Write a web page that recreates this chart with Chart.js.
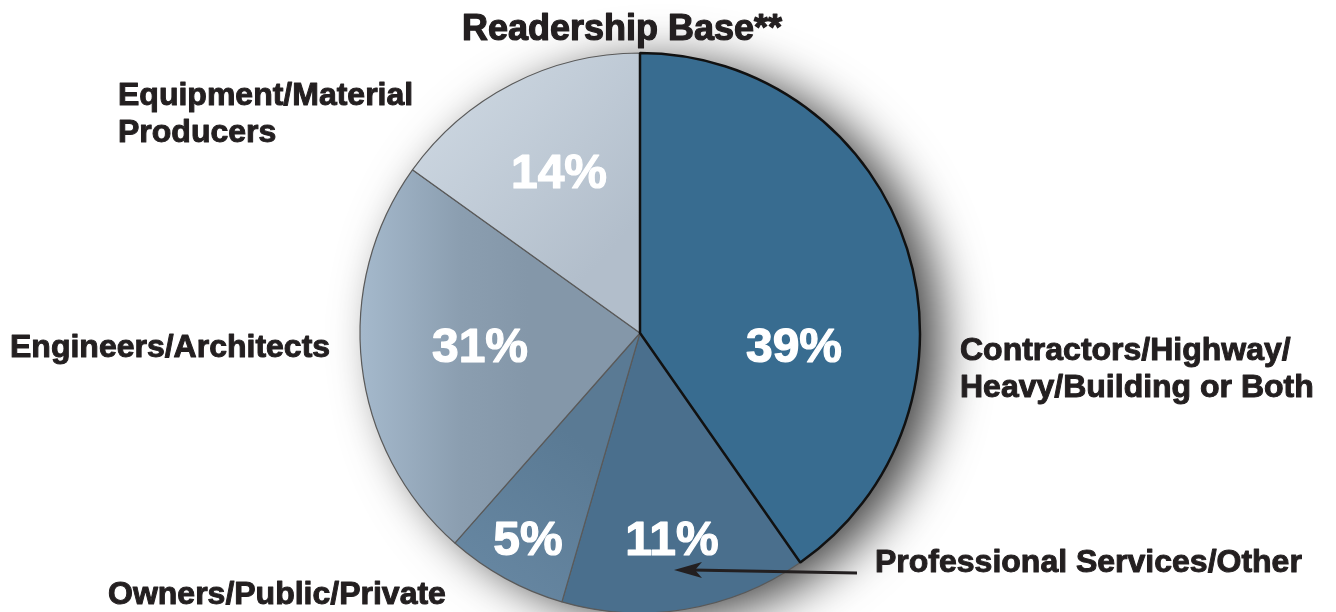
<!DOCTYPE html>
<html>
<head>
<meta charset="utf-8">
<script src="https://cdn.jsdelivr.net/npm/chart.js@4"></script>
<style>
  html, body { margin: 0; padding: 0; background: #fff; overflow: hidden; }
  #wrap { width: 1336px; height: 612px; }
</style>
</head>
<body>
<div id="wrap"><canvas id="pie" width="1336" height="612"></canvas></div>
<script>
// slices clockwise from 12 o'clock
const categories = ['Contractors/Highway/Heavy/Building or Both', 'Professional Services/Other', 'Owners/Public/Private', 'Engineers/Architects', 'Equipment/Material Producers'];
const shareLabels = ['39%', '11%', '5%', '31%', '14%'];
// slice sizes as they are drawn in the picture (the drawing is not to the printed shares)
const sliceSizes = [40.3, 14.2, 7.0, 23.4, 15.1];

const titleText = 'Readership Base**';
const outerLabels = [
    ['Contractors/Highway/', 'Heavy/Building or Both'],
    ['Professional Services/Other'],
    ['Owners/Public/Private'],
    ['Engineers/Architects'],
    ['Equipment/Material', 'Producers']
];

const CX = 640, CY = 333, R = 280;
const FONT = '"Liberation Sans", Arial, Helvetica, sans-serif';
const INK = '#231f20';

// where the texts sit (left x, first baseline) and the percent labels (centre x, baseline)
const outerPos = [[960, 360], [875, 572], [108, 604], [10, 357], [118, 105]];
const sharePos = [[794, 362], [672, 555], [528, 555], [480, 362], [559, 188]];

function sliceFill(ctx, i) {
    const c = ctx.chart.ctx;
    let g;
    if (i === 0) return '#386c90';
    if (i === 1) return '#4a6f8d';
    if (i === 2) {
        g = c.createLinearGradient(CX - 0.6 * R, CY + 0.9 * R, CX - 0.2 * R, CY + 0.4 * R);
        g.addColorStop(0, '#6787a2');
        g.addColorStop(1, '#5a7a94');
        return g;
    }
    if (i === 3) {
        g = c.createLinearGradient(CX - R, 0, CX - 0.4 * R, 0);
        g.addColorStop(0, '#a5b9cc');
        g.addColorStop(0.6, '#8b9eb0');
        g.addColorStop(1, '#8497a9');
        return g;
    }
    g = c.createLinearGradient(CX - 0.75 * R, CY - 0.9 * R, CX - 0.1 * R, CY - 0.3 * R);
    g.addColorStop(0, '#ced8e2');
    g.addColorStop(1, '#b2becb');
    return g;
}

// draw the dark slice last so its black outline stays on top
const order = [1, 2, 3, 4, 0];
const drawValues = order.map(i => sliceSizes[i]);
const total = sliceSizes.reduce((a, b) => a + b, 0);
const startAngle = 360 * sliceSizes[0] / total;

const shadowPlugin = {
    id: 'pieShadow',
    beforeDatasetsDraw(chart) {
        const c = chart.ctx;
        c.save();
        c.beginPath();
        c.arc(CX, CY, R - 2, 0, Math.PI * 2);
        c.fillStyle = '#777';
        c.shadowColor = 'rgba(0,0,0,0.75)';
        c.shadowBlur = 50;
        c.shadowOffsetX = 22;
        c.shadowOffsetY = 8;
        c.fill();
        c.restore();
    }
};

function boldText(c, text, x, y, w) {
    c.lineWidth = w;
    c.lineJoin = 'round';
    c.strokeText(text, x, y);
    c.fillText(text, x, y);
}

const textPlugin = {
    id: 'pieTexts',
    afterDraw(chart) {
        const c = chart.ctx;
        c.save();
        c.textBaseline = 'alphabetic';

        c.fillStyle = INK;
        c.strokeStyle = INK;
        c.textAlign = 'center';
        c.font = 'bold 36px ' + FONT;
        boldText(c, titleText, 622, 40, 1.2);

        c.textAlign = 'left';
        c.font = 'bold 32px ' + FONT;
        outerLabels.forEach((lines, i) => {
            lines.forEach((line, k) => {
                boldText(c, line, outerPos[i][0], outerPos[i][1] + k * 37, 1);
            });
        });

        c.fillStyle = '#fff';
        c.strokeStyle = '#fff';
        c.textAlign = 'center';
        c.font = 'bold 48px ' + FONT;
        shareLabels.forEach((t, i) => {
            boldText(c, t, sharePos[i][0], sharePos[i][1], 1.2);
        });

        // arrow from "Professional Services/Other" into its slice
        const y0 = outerPos[1][1] + 1, x0 = outerPos[1][0] - 18;
        const tipX = 674, tipY = y0 - 3;
        c.strokeStyle = INK;
        c.lineWidth = 3;
        c.beginPath();
        c.moveTo(x0, y0);
        c.lineTo(tipX + 18, tipY);
        c.stroke();
        c.fillStyle = INK;
        c.beginPath();
        c.moveTo(tipX, tipY);
        c.lineTo(tipX + 28, tipY - 8);
        c.lineTo(tipX + 21, tipY);
        c.lineTo(tipX + 28, tipY + 8);
        c.closePath();
        c.fill();
        c.restore();
    }
};

new Chart(document.getElementById('pie'), {
    type: 'pie',
    data: {
        labels: order.map(i => categories[i]),
        datasets: [{
            data: drawValues,
            radius: R,
            backgroundColor: ctx => sliceFill(ctx, order[ctx.dataIndex]),
            borderColor: order.map(i => i === 0 ? '#111' : '#5a5a5a'),
            borderWidth: order.map(i => i === 0 ? 2.5 : 1.2),
            hoverOffset: 0
        }]
    },
    options: {
        responsive: false,
        animation: false,
        rotation: startAngle,
        radius: R,
        layout: { padding: { left: CX - 281, right: 1336 - (CX + 281), top: 54, bottom: 0 } },
        plugins: {
            legend: { display: false },
            tooltip: { enabled: false }
        },
        events: []
    },
    plugins: [shadowPlugin, textPlugin]
});
</script>
</body>
</html>
